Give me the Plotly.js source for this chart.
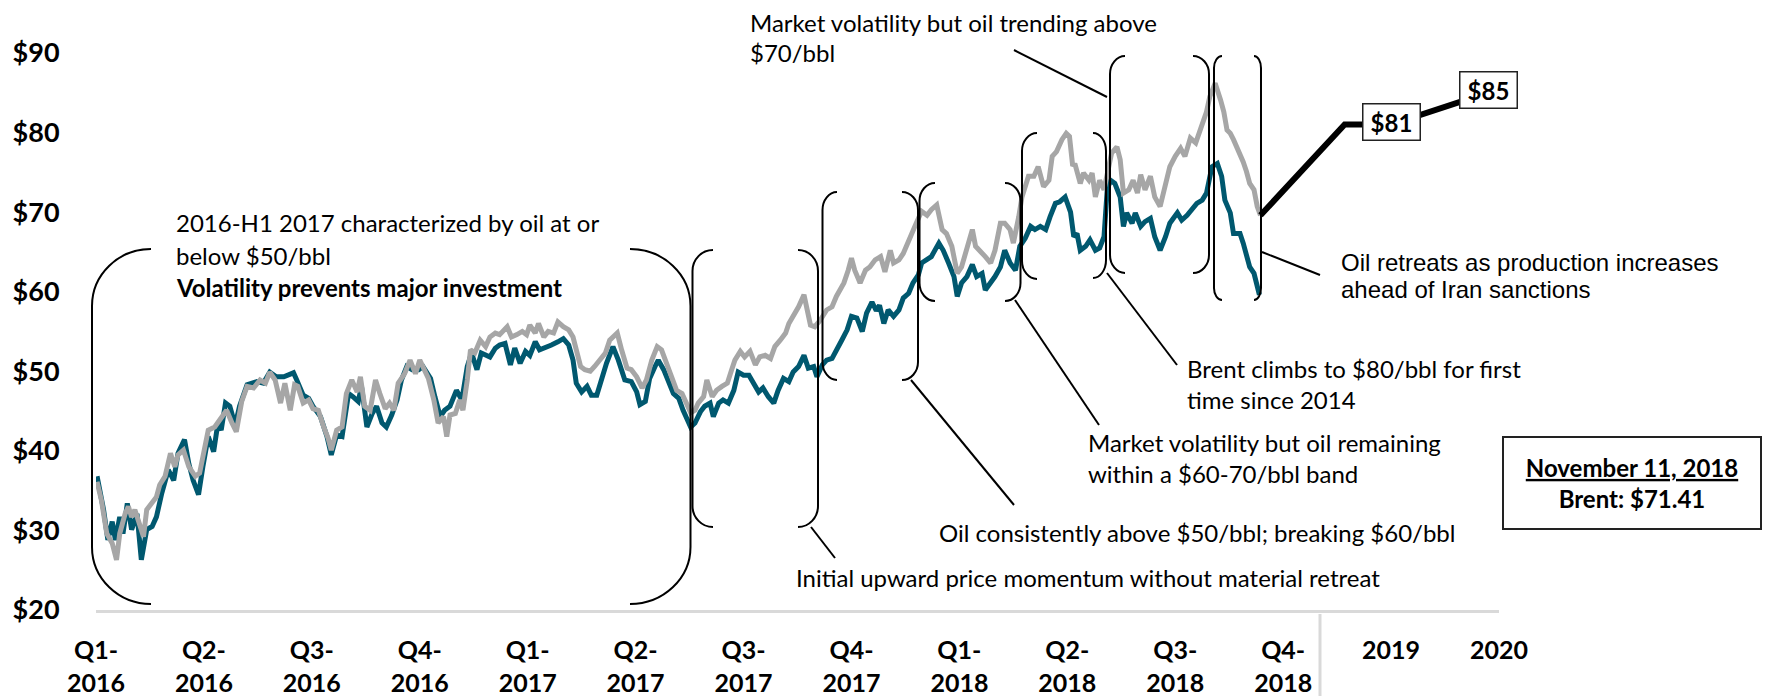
<!DOCTYPE html>
<html><head><meta charset="utf-8">
<script src="https://cdn.plot.ly/plotly-3.0.1.min.js"></script>
<style>html,body{margin:0;padding:0;background:#fff}#chart{width:1768px;height:696px}</style>
</head><body><div id="chart"></div>
<script>
// ---- data ----
const tickPositions = [0,1,2,3,4,5,6,7,8,9,10,11,12,13];
const tickLabels = ["Q1-<br>2016","Q2-<br>2016","Q3-<br>2016","Q4-<br>2016","Q1-<br>2017","Q2-<br>2017","Q3-<br>2017","Q4-<br>2017","Q1-<br>2018","Q2-<br>2018","Q3-<br>2018","Q4-<br>2018","2019","2020"];
const yTicks = [20,30,40,50,60,70,80,90];
const yTickLabels = ["$20","$30","$40","$50","$60","$70","$80","$90"];

const brentX = [0.01,0.05,0.10,0.15,0.19,0.22,0.27,0.30,0.33,0.36,0.41,0.44,0.47,0.52,0.56,0.59,0.64,0.69,0.73,0.76,0.81,0.86,0.92,0.96,1.01,1.04,1.10,1.15,1.21,1.26,1.30,1.35,1.40,1.46,1.52,1.57,1.61,1.66,1.71,1.75,1.80,1.84,1.87,1.92,1.97,2.01,2.06,2.11,2.15,2.18,2.23,2.28,2.32,2.37,2.42,2.45,2.49,2.54,2.59,2.63,2.68,2.72,2.76,2.80,2.86,2.91,2.96,3.00,3.03,3.08,3.13,3.17,3.22,3.25,3.28,3.33,3.37,3.40,3.44,3.47,3.51,3.56,3.61,3.65,3.70,3.74,3.81,3.85,3.90,3.95,3.99,4.02,4.07,4.10,4.15,4.19,4.24,4.28,4.33,4.38,4.42,4.45,4.49,4.53,4.58,4.62,4.67,4.72,4.76,4.83,4.87,4.92,4.96,5.01,5.06,5.10,5.15,5.20,5.24,5.29,5.34,5.38,5.43,5.46,5.51,5.55,5.58,5.63,5.66,5.71,5.75,5.80,5.85,5.89,5.92,5.97,6.01,6.06,6.11,6.15,6.20,6.25,6.29,6.34,6.39,6.42,6.46,6.51,6.56,6.59,6.62,6.66,6.71,6.77,6.82,6.86,6.93,6.97,7.00,7.03,7.08,7.13,7.17,7.22,7.27,7.31,7.36,7.39,7.44,7.48,7.53,7.57,7.60,7.65,7.70,7.74,7.79,7.84,7.88,7.93,7.98,8.02,8.07,8.12,8.15,8.19,8.24,8.29,8.33,8.38,8.42,8.47,8.50,8.55,8.58,8.64,8.69,8.73,8.78,8.83,8.86,8.90,8.95,8.99,9.02,9.05,9.07,9.12,9.15,9.20,9.23,9.26,9.30,9.34,9.37,9.41,9.46,9.49,9.52,9.57,9.61,9.65,9.68,9.72,9.77,9.81,9.86,9.91,9.95,10.00,10.05,10.09,10.14,10.19,10.23,10.26,10.29,10.32,10.37,10.42,10.45,10.48,10.51,10.54,10.57,10.60,10.63,10.66,10.69,10.73,10.76,10.79];
const brentY = [36.1,33.8,29.6,28.4,26.3,29.6,32.1,33.0,31.7,32.6,30.5,29.2,32.6,33.4,34.2,35.7,36.8,39.7,38.0,39.5,40.1,38.0,36.8,37.2,40.5,42.6,43.0,43.9,45.1,43.5,42.4,46.2,48.1,47.9,48.9,48.5,49.9,48.9,46.0,48.5,45.1,48.3,48.1,46.0,46.4,45.3,45.1,43.0,41.6,40.1,42.6,43.0,47.2,48.9,47.4,49.3,45.6,45.1,48.9,47.2,45.3,46.0,45.1,48.5,49.7,51.4,49.7,51.4,50.6,49.1,46.4,43.5,44.3,41.8,44.5,44.7,46.4,45.1,48.9,52.7,52.3,53.9,53.1,54.3,54.8,54.6,55.6,54.3,54.6,55.0,54.6,55.8,54.8,56.0,54.3,55.0,54.8,56.2,55.6,55.2,54.3,52.9,50.6,50.2,50.0,50.6,51.4,52.3,53.9,54.8,52.7,50.4,50.2,49.3,47.9,48.9,51.4,53.1,52.7,51.0,48.9,47.6,47.2,46.4,44.8,45.1,46.0,46.8,48.9,46.8,47.6,48.1,48.5,50.2,51.4,52.5,51.8,52.5,50.8,51.8,52.0,51.6,53.1,53.9,54.8,56.0,56.9,58.1,59.6,57.7,55.8,55.6,56.4,57.7,58.1,59.4,61.1,62.7,64.2,62.7,61.1,62.7,63.1,64.0,64.4,62.5,65.2,63.6,64.0,64.8,66.5,67.8,68.6,70.1,69.6,70.3,70.9,67.8,67.3,65.7,62.3,63.1,65.7,67.8,65.7,65.2,64.4,63.6,65.2,68.6,68.6,67.8,66.1,69.4,71.9,74.5,74.5,75.7,73.2,74.0,77.0,77.6,79.1,79.9,79.5,75.8,76.1,73.6,74.9,74.0,74.9,71.9,74.0,72.8,74.9,77.4,78.2,76.6,72.4,72.8,74.0,72.4,74.7,72.8,74.5,71.9,70.7,73.2,75.7,77.0,78.0,77.0,79.3,78.7,80.3,81.4,82.6,84.5,86.2,84.1,82.6,80.3,79.9,79.1,78.2,77.4,76.3,75.1,73.6,72.8,70.7,69.6];

const wtiX = [0.01,0.07,0.11,0.15,0.18,0.22,0.25,0.29,0.33,0.38,0.42,0.47,0.52,0.56,0.61,0.67,0.72,0.76,0.82,0.86,0.90,0.95,0.99,1.04,1.09,1.13,1.16,1.20,1.24,1.29,1.33,1.40,1.49,1.55,1.61,1.67,1.74,1.79,1.83,1.86,1.92,1.97,2.01,2.08,2.14,2.18,2.23,2.28,2.34,2.38,2.43,2.46,2.51,2.56,2.60,2.65,2.69,2.74,2.79,2.83,2.88,2.93,2.99,3.03,3.10,3.14,3.19,3.23,3.28,3.34,3.39,3.44,3.48,3.53,3.57,3.65,3.70,3.74,3.79,3.84,3.88,3.93,3.98,4.02,4.07,4.11,4.16,4.22,4.28,4.33,4.38,4.42,4.45,4.50,4.55,4.59,4.64,4.69,4.73,4.79,4.84,4.90,4.96,5.01,5.04,5.09,5.13,5.18,5.21,5.26,5.30,5.35,5.40,5.44,5.51,5.55,5.60,5.64,5.69,5.72,5.77,5.81,5.86,5.91,5.95,6.00,6.05,6.09,6.14,6.18,6.23,6.28,6.32,6.37,6.42,6.46,6.51,6.56,6.60,6.65,6.68,6.73,6.77,6.82,6.86,6.91,6.96,7.00,7.05,7.10,7.14,7.19,7.23,7.26,7.30,7.34,7.39,7.44,7.48,7.53,7.57,7.62,7.65,7.70,7.74,7.81,7.85,7.90,7.95,7.98,8.02,8.07,8.12,8.16,8.21,8.24,8.29,8.33,8.38,8.42,8.47,8.52,8.56,8.61,8.66,8.70,8.75,8.80,8.84,8.89,8.93,8.98,9.03,9.06,9.09,9.12,9.17,9.21,9.26,9.30,9.34,9.37,9.40,9.44,9.49,9.52,9.55,9.60,9.63,9.68,9.72,9.77,9.81,9.86,9.91,9.95,10.02,10.06,10.11,10.15,10.20,10.25,10.29,10.34,10.39,10.43,10.46,10.51,10.54,10.57,10.60,10.63,10.66,10.69,10.73,10.76,10.78];
const wtiY = [36.8,32.6,28.8,31.1,28.8,31.7,29.6,33.4,30.1,32.1,26.3,30.1,30.5,31.7,34.7,37.6,36.3,39.7,41.4,38.4,36.3,34.5,38.0,41.8,39.9,43.5,42.6,46.0,45.6,43.2,45.6,48.3,48.7,48.5,49.9,49.3,49.3,49.5,49.8,48.9,47.0,46.6,45.6,44.3,41.8,39.5,42.0,41.8,47.2,46.8,46.2,48.1,43.0,44.7,45.6,43.5,43.0,44.5,46.4,48.9,50.6,50.2,50.2,50.6,49.1,46.8,44.3,45.1,45.6,47.6,46.4,50.6,52.3,50.2,52.3,51.8,52.9,53.3,53.5,50.8,52.9,51.0,52.5,52.0,53.7,52.7,52.9,53.3,53.7,54.1,53.3,51.4,48.5,47.4,48.1,47.0,47.0,49.3,51.0,53.1,51.4,48.9,48.7,47.4,45.8,46.2,49.1,50.6,51.4,50.2,48.7,47.2,46.6,45.1,43.0,43.5,44.9,45.6,46.0,44.3,46.0,46.4,46.0,47.6,49.9,49.5,49.5,48.5,47.4,47.9,46.8,46.0,47.6,49.1,48.7,49.9,50.6,52.0,50.4,50.6,49.3,50.8,51.4,51.6,52.5,53.9,55.2,56.9,56.7,55.0,57.3,58.7,57.6,58.3,56.0,57.7,56.9,57.7,59.2,59.8,61.1,62.1,63.6,64.0,64.4,66.1,65.2,63.6,61.9,59.4,61.1,61.9,63.4,61.9,62.3,60.2,61.1,61.9,63.1,65.2,63.6,62.7,65.7,66.7,68.2,67.8,68.2,67.8,69.4,71.1,71.3,71.9,70.0,66.9,67.3,65.2,65.7,66.5,65.2,65.5,66.9,72.8,74.0,73.6,71.9,68.2,69.9,68.6,69.9,68.2,68.8,69.2,66.9,65.2,66.9,68.6,69.9,69.0,69.6,70.3,71.1,71.5,72.4,75.7,76.1,74.5,71.5,69.9,67.3,67.3,67.3,66.1,64.4,63.1,62.3,60.6,59.6];

const forecastX = [10.79, 11.57, 12.0, 12.9];
const forecastY = [69.6, 81, 81, 85];
const forecastLabeled = [2, 3];

const noteDate = "November 11, 2018";
const noteBrent = "Brent: $71.41";

// ---- geometry helpers (full-image pixels -> paper) ----
const PL = 96, PR = 1499, PT = 37, PB = 610;
const W = PR - PL, H = PB - PT;
const fx = x => (x - PL) / W;
const fy = y => (PB - y) / H;
const P = (x, y) => fx(x).toFixed(5) + ',' + fy(y).toFixed(5);

function paren(xv, xt, top, bot, ry) {
  const k = 0.5523;
  const cx = xt + (xv - xt) * k;
  return 'M' + P(xt, top) + ' C' + P(cx, top) + ' ' + P(xv, top + ry * (1 - k)) + ' ' + P(xv, top + ry) +
    ' L' + P(xv, bot - ry) + ' C' + P(xv, bot - ry * (1 - k)) + ' ' + P(cx, bot) + ' ' + P(xt, bot);
}
const brackets = [
  [92, 151, 249, 604, 57], [690.5, 630, 249, 604, 57],
  [692.5, 713, 250, 527, 21], [818, 798, 250, 527, 21],
  [822.5, 837, 192, 380, 18], [918, 902, 192, 380, 18],
  [919.5, 935, 183, 301, 18], [1020.5, 1005, 183, 301, 18],
  [1022, 1037, 133, 279, 18], [1106, 1093, 133, 278, 18],
  [1110, 1125, 56, 273, 18], [1209, 1193, 56, 273, 18],
  [1214, 1222, 56, 300, 12], [1261, 1254, 56, 300, 12]
];
const leaders = [
  [811, 527, 835, 558], [911, 380, 1014, 505], [1015, 300, 1099, 425],
  [1107, 273, 1177, 365], [1107, 97, 1014, 50], [1262, 252, 1320, 275]
];
const shapes = [];
brackets.forEach(b => shapes.push({type: 'path', xref: 'paper', yref: 'paper', path: paren(...b), line: {color: '#000', width: 2}}));
leaders.forEach(l => shapes.push({type: 'line', xref: 'paper', yref: 'paper', x0: fx(l[0]), y0: fy(l[1]), x1: fx(l[2]), y1: fy(l[3]), line: {color: '#000', width: 2}}));
shapes.push({type: 'line', xref: 'paper', yref: 'paper', x0: fx(1320), x1: fx(1320), y0: fy(614), y1: fy(700), line: {color: '#d9d9d9', width: 3}});

const TXT = {family: 'Lato, sans-serif', size: 24, color: '#000'};
const ARIAL = {family: '"Liberation Sans", Arial, sans-serif', size: 24, color: '#000'};
const textLines = [
  ["2016-H1 2017 characterized by oil at or", 175, 222, TXT],
  ["below $50/bbl", 175, 255, TXT],
  ["<b>Volatility prevents major investment</b>", 175, 287, TXT],
  ["Market volatility but oil trending above", 749, 22, TXT],
  ["$70/bbl", 749, 53, TXT],
  ["Brent climbs to $80/bbl for first", 1186, 368, TXT],
  ["time since 2014", 1186, 400, TXT],
  ["Market volatility but oil remaining", 1087, 442, TXT],
  ["within a $60-70/bbl band", 1087, 473, TXT],
  ["Oil consistently above $50/bbl; breaking $60/bbl", 938, 532, TXT],
  ["Initial upward price momentum without material retreat", 795, 577, TXT],
  ["Oil retreats as production increases", 1340, 262, ARIAL],
  ["ahead of Iran sanctions", 1340, 289, ARIAL]
];
const annotations = textLines.map(t => ({
  xref: 'paper', yref: 'paper', x: fx(t[1]), y: fy(t[2]), xanchor: 'left', yanchor: 'middle',
  text: t[0], showarrow: false, font: t[3], borderpad: 0
}));
forecastLabeled.forEach(i => annotations.push({
  xref: 'x', yref: 'y', x: forecastX[i], y: forecastY[i], yshift: 3, text: '<b>$' + forecastY[i] + '</b>',
  showarrow: false, font: {family: 'Lato, sans-serif', size: 24, color: '#000'},
  bgcolor: '#fff', bordercolor: '#222', borderwidth: 1.5, borderpad: 2, width: 52, height: 31
}));
annotations.push({
  xref: 'paper', yref: 'paper', x: fx(1632), y: fy(483), xanchor: 'center', yanchor: 'middle',
  text: '<b><span style="text-decoration:underline">' + noteDate + '</span><br>' + noteBrent + '</b>',
  showarrow: false, font: {family: 'Lato, sans-serif', size: 24, color: '#000'},
  bgcolor: '#fff', bordercolor: '#222', borderwidth: 2, borderpad: 3, width: 250, height: 84
});

const traces = [
  {x: wtiX, y: wtiY, type: 'scatter', mode: 'lines', name: 'WTI', line: {color: '#00586f', width: 5}},
  {x: brentX, y: brentY, type: 'scatter', mode: 'lines', name: 'Brent', line: {color: '#a6a6a6', width: 5}},
  {x: forecastX, y: forecastY, type: 'scatter', mode: 'lines', name: 'Forecast', line: {color: '#000', width: 6}}
];

const layout = {
  width: 1768, height: 696,
  margin: {l: PL, r: 1768 - PR, t: PT, b: 696 - PB},
  paper_bgcolor: '#fff', plot_bgcolor: '#fff',
  showlegend: false,
  xaxis: {
    range: [0, 13], tickmode: 'array', tickvals: tickPositions, ticktext: tickLabels,
    showgrid: false, zeroline: false, showline: true, linecolor: '#d9d9d9', linewidth: 3,
    ticks: 'outside', ticklen: 16, tickcolor: 'rgba(0,0,0,0)',
    tickfont: {family: 'Lato, sans-serif', size: 25, color: '#000', weight: 'bold'}
  },
  yaxis: {
    range: [20, 92], tickmode: 'array', tickvals: yTicks, ticktext: yTickLabels,
    showgrid: false, zeroline: false, showline: false,
    ticks: 'outside', ticklen: 30, tickcolor: 'rgba(0,0,0,0)',
    tickfont: {family: 'Lato, sans-serif', size: 27, color: '#000', weight: 'bold'}
  },
  shapes: shapes,
  annotations: annotations
};
Plotly.newPlot('chart', traces, layout, {displayModeBar: false, staticPlot: true});
</script>
</body></html>
